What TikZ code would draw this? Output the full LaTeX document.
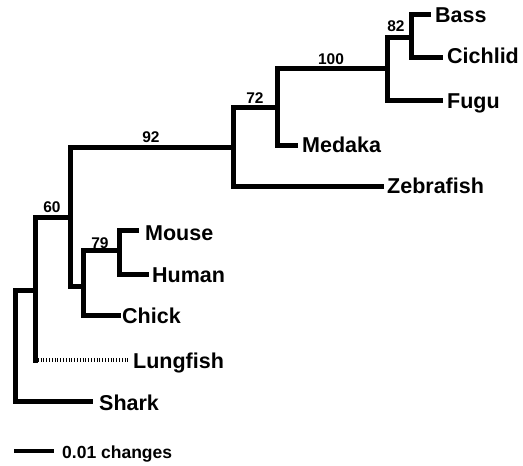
\documentclass[tikz,border=0pt]{standalone}
\usepackage{fontspec}
\setmainfont{Liberation Sans}
\begin{document}
\begin{tikzpicture}[x=1pt,y=-1pt,
  branch/.style={line width=5pt, line cap=rect, line join=miter},
  dotbranch/.style={line width=4pt, line cap=butt, dash pattern=on 1pt off 1.8pt},
  taxon/.style={anchor=west, inner sep=0pt, font=\fontsize{21.5}{21.5}\selectfont\bfseries, text height=15.4pt, text depth=0pt},
  boot/.style={anchor=center, inner sep=0pt, font=\fontsize{15.5}{15.5}\selectfont\bfseries, text height=11.1pt, text depth=0pt},
  scalelab/.style={anchor=west, inner sep=0pt, font=\fontsize{17.5}{17.5}\selectfont\bfseries, text height=12.5pt, text depth=0pt}]
\useasboundingbox (0,0) rectangle (523,466);
% internal nodes
\coordinate (root) at (15,345);
\coordinate (nA) at (35,290);
\coordinate (n60) at (70,217);
\coordinate (nCC) at (83,286);
\coordinate (n79) at (119,250);
\coordinate (n92) at (233,147);
\coordinate (n72) at (277,107);
\coordinate (n100) at (387,68);
\coordinate (n82) at (411,37);
% tips
\coordinate (tBass) at (428,14);
\coordinate (tCichlid) at (440,57);
\coordinate (tFugu) at (440,100);
\coordinate (tMedaka) at (295,145);
\coordinate (tZebra) at (381,186);
\coordinate (tMouse) at (136,230);
\coordinate (tHuman) at (146,274);
\coordinate (tChick) at (118,315);
\coordinate (tLung) at (130,360);
\coordinate (tShark) at (90,401);
% labels
\node[taxon] (lBass) at (435,15) {Bass};
\node[taxon] (lCichlid) at (447,56) {Cichlid};
\node[taxon] (lFugu) at (447,101) {Fugu};
\node[taxon] (lMedaka) at (302,145) {Medaka};
\node[taxon] (lZebra) at (387,186) {Zebrafish};
\node[taxon] (lMouse) at (145,233) {Mouse};
\node[taxon] (lHuman) at (152,275) {Human};
\node[taxon] (lChick) at (122,316) {Chick};
\node[taxon] (lLung) at (133,361) {Lungfish};
\node[taxon] (lShark) at (99,403) {Shark};
% branches
\draw[branch] (root) |- (nA);
\draw[branch] (root) |- (tShark);
\draw[branch] (nA) |- (n60);
\draw[branch] (nA) -- (nA |- tLung);
\draw[dotbranch] (nA |- tLung) -- (tLung);
\draw[branch] (n60) |- (n92);
\draw[branch] (n60) |- (nCC);
\draw[branch] (nCC) |- (n79);
\draw[branch] (nCC) |- (tChick);
\draw[branch] (n79) |- (tMouse);
\draw[branch] (n79) |- (tHuman);
\draw[branch] (n92) |- (n72);
\draw[branch] (n92) |- (tZebra);
\draw[branch] (n72) |- (n100);
\draw[branch] (n72) |- (tMedaka);
\draw[branch] (n100) |- (n82);
\draw[branch] (n100) |- (tFugu);
\draw[branch] (n82) |- (tBass);
\draw[branch] (n82) |- (tCichlid);
% bootstrap values
\node[boot] (b82) at (396,26) {82};
\node[boot] (b100) at (331,59) {100};
\node[boot] (b72) at (255,98) {72};
\node[boot] (b92) at (151,137) {92};
\node[boot] (b60) at (52,207) {60};
\node[boot] (b79) at (100,243) {79};
% scale bar
\coordinate (sA) at (14,451);
\coordinate (sB) at (54,451);
\draw[line width=4.5pt] (sA) -- (sB);
\node[scalelab] (sLab) at (62,452) {0.01 changes};
\end{tikzpicture}
\end{document}
